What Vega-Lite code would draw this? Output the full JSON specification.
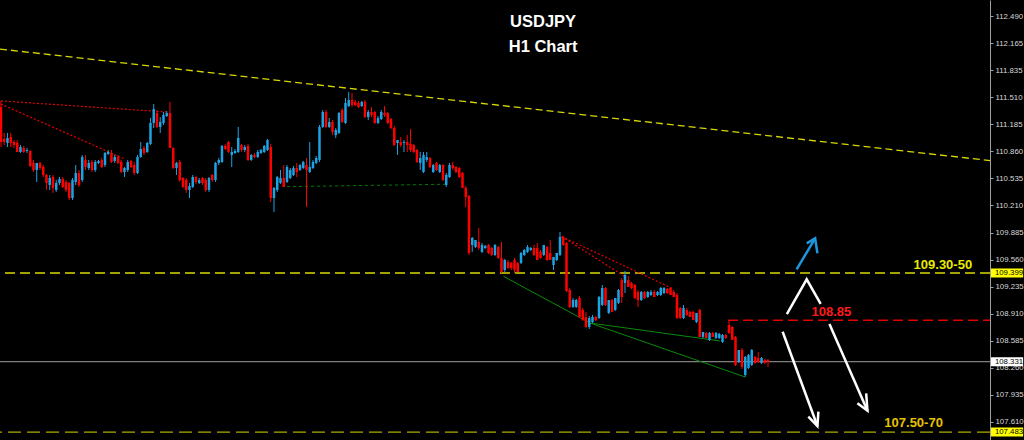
{
  "$schema": "https://vega.github.io/schema/vega-lite/v6.json",
  "width": 990,
  "height": 440,
  "autosize": {"type": "none"},
  "padding": {"left": 0, "top": 0, "right": 34, "bottom": 0},
  "background": "#000000",
  "config": {
    "view": {"stroke": null},
    "scale": {"continuousPadding": 0},
    "axis": {"grid": false, "domainColor": "#a0a0a0", "domainWidth": 1, "tickColor": "#a0a0a0", "tickSize": 3, "labelColor": "#d8d8d8",
      "labelFont": "Liberation Sans", "labelFontSize": 7.8, "labelPadding": 2, "labelAlign": "left", "labelBaseline": "middle", "labelOverlap": false}
  },
  "resolve": {"scale": {"color": "independent"}},
  "datasets": {
    "candles": [
      {"t":0,"o":111.395,"h":111.468,"l":110.914,"c":110.974},
      {"t":1,"o":111.010,"h":111.083,"l":110.938,"c":110.974},
      {"t":2,"o":110.962,"h":111.083,"l":110.914,"c":111.022},
      {"t":3,"o":111.034,"h":111.083,"l":110.914,"c":110.962},
      {"t":4,"o":110.974,"h":110.998,"l":110.902,"c":110.938},
      {"t":5,"o":110.962,"h":110.998,"l":110.854,"c":110.854},
      {"t":6,"o":110.854,"h":110.938,"l":110.842,"c":110.914},
      {"t":7,"o":110.902,"h":110.926,"l":110.842,"c":110.854},
      {"t":8,"o":110.866,"h":110.902,"l":110.842,"c":110.878},
      {"t":9,"o":110.866,"h":110.878,"l":110.673,"c":110.685},
      {"t":10,"o":110.722,"h":110.758,"l":110.613,"c":110.637},
      {"t":11,"o":110.637,"h":110.722,"l":110.493,"c":110.722},
      {"t":12,"o":110.722,"h":110.734,"l":110.637,"c":110.661},
      {"t":13,"o":110.673,"h":110.697,"l":110.553,"c":110.577},
      {"t":14,"o":110.577,"h":110.589,"l":110.397,"c":110.481},
      {"t":15,"o":110.457,"h":110.577,"l":110.397,"c":110.541},
      {"t":16,"o":110.553,"h":110.577,"l":110.361,"c":110.421},
      {"t":17,"o":110.397,"h":110.517,"l":110.373,"c":110.481},
      {"t":18,"o":110.481,"h":110.553,"l":110.457,"c":110.529},
      {"t":19,"o":110.529,"h":110.553,"l":110.421,"c":110.433},
      {"t":20,"o":110.493,"h":110.517,"l":110.373,"c":110.397},
      {"t":21,"o":110.481,"h":110.493,"l":110.276,"c":110.300},
      {"t":22,"o":110.300,"h":110.541,"l":110.276,"c":110.517},
      {"t":23,"o":110.493,"h":110.697,"l":110.457,"c":110.601},
      {"t":24,"o":110.601,"h":110.637,"l":110.433,"c":110.457},
      {"t":25,"o":110.517,"h":110.818,"l":110.493,"c":110.794},
      {"t":26,"o":110.758,"h":110.818,"l":110.637,"c":110.673},
      {"t":27,"o":110.661,"h":110.758,"l":110.637,"c":110.722},
      {"t":28,"o":110.734,"h":110.758,"l":110.613,"c":110.637},
      {"t":29,"o":110.637,"h":110.758,"l":110.613,"c":110.734},
      {"t":30,"o":110.722,"h":110.758,"l":110.709,"c":110.746},
      {"t":31,"o":110.758,"h":110.782,"l":110.661,"c":110.673},
      {"t":32,"o":110.697,"h":110.854,"l":110.673,"c":110.842},
      {"t":33,"o":110.830,"h":110.878,"l":110.818,"c":110.854},
      {"t":34,"o":110.842,"h":110.878,"l":110.722,"c":110.734},
      {"t":35,"o":110.746,"h":110.818,"l":110.722,"c":110.794},
      {"t":36,"o":110.794,"h":110.818,"l":110.709,"c":110.722},
      {"t":37,"o":110.734,"h":110.758,"l":110.601,"c":110.613},
      {"t":38,"o":110.613,"h":110.673,"l":110.553,"c":110.661},
      {"t":39,"o":110.637,"h":110.758,"l":110.613,"c":110.734},
      {"t":40,"o":110.746,"h":110.758,"l":110.661,"c":110.673},
      {"t":41,"o":110.697,"h":110.734,"l":110.577,"c":110.601},
      {"t":42,"o":110.601,"h":110.818,"l":110.589,"c":110.794},
      {"t":43,"o":110.794,"h":110.974,"l":110.782,"c":110.890},
      {"t":44,"o":110.902,"h":110.926,"l":110.818,"c":110.842},
      {"t":45,"o":110.854,"h":110.974,"l":110.842,"c":110.962},
      {"t":46,"o":110.950,"h":111.263,"l":110.938,"c":111.203},
      {"t":47,"o":111.203,"h":111.431,"l":111.143,"c":111.371},
      {"t":48,"o":111.323,"h":111.359,"l":111.143,"c":111.155},
      {"t":49,"o":111.155,"h":111.275,"l":111.083,"c":111.215},
      {"t":50,"o":111.203,"h":111.335,"l":111.179,"c":111.299},
      {"t":51,"o":111.287,"h":111.347,"l":111.275,"c":111.323},
      {"t":52,"o":111.323,"h":111.456,"l":110.902,"c":110.902},
      {"t":53,"o":110.902,"h":110.914,"l":110.649,"c":110.661},
      {"t":54,"o":110.661,"h":110.734,"l":110.577,"c":110.722},
      {"t":55,"o":110.734,"h":110.758,"l":110.493,"c":110.517},
      {"t":56,"o":110.541,"h":110.553,"l":110.421,"c":110.433},
      {"t":57,"o":110.517,"h":110.541,"l":110.361,"c":110.397},
      {"t":58,"o":110.397,"h":110.481,"l":110.300,"c":110.445},
      {"t":59,"o":110.433,"h":110.577,"l":110.421,"c":110.553},
      {"t":60,"o":110.553,"h":110.565,"l":110.469,"c":110.493},
      {"t":61,"o":110.481,"h":110.541,"l":110.469,"c":110.517},
      {"t":62,"o":110.541,"h":110.553,"l":110.457,"c":110.481},
      {"t":63,"o":110.517,"h":110.541,"l":110.373,"c":110.397},
      {"t":64,"o":110.397,"h":110.553,"l":110.373,"c":110.541},
      {"t":65,"o":110.577,"h":110.589,"l":110.493,"c":110.517},
      {"t":66,"o":110.517,"h":110.734,"l":110.493,"c":110.722},
      {"t":67,"o":110.722,"h":110.782,"l":110.697,"c":110.758},
      {"t":68,"o":110.734,"h":110.938,"l":110.722,"c":110.926},
      {"t":69,"o":110.926,"h":110.950,"l":110.878,"c":110.890},
      {"t":70,"o":110.974,"h":110.986,"l":110.842,"c":110.854},
      {"t":71,"o":110.818,"h":110.914,"l":110.673,"c":110.854},
      {"t":72,"o":110.842,"h":110.890,"l":110.830,"c":110.866},
      {"t":73,"o":110.854,"h":111.155,"l":110.842,"c":111.022},
      {"t":74,"o":110.938,"h":110.950,"l":110.854,"c":110.878},
      {"t":75,"o":110.878,"h":110.938,"l":110.854,"c":110.914},
      {"t":76,"o":110.926,"h":110.950,"l":110.746,"c":110.758},
      {"t":77,"o":110.758,"h":110.830,"l":110.746,"c":110.818},
      {"t":78,"o":110.818,"h":110.842,"l":110.782,"c":110.794},
      {"t":79,"o":110.794,"h":110.878,"l":110.782,"c":110.854},
      {"t":80,"o":110.842,"h":110.890,"l":110.830,"c":110.878},
      {"t":81,"o":110.854,"h":110.938,"l":110.842,"c":110.926},
      {"t":82,"o":110.878,"h":111.010,"l":110.866,"c":110.998},
      {"t":83,"o":110.914,"h":110.950,"l":110.252,"c":110.300},
      {"t":84,"o":110.300,"h":110.433,"l":110.132,"c":110.421},
      {"t":85,"o":110.397,"h":110.565,"l":110.373,"c":110.553},
      {"t":86,"o":110.481,"h":110.637,"l":110.469,"c":110.541},
      {"t":87,"o":110.541,"h":110.697,"l":110.433,"c":110.433},
      {"t":88,"o":110.493,"h":110.697,"l":110.481,"c":110.673},
      {"t":89,"o":110.541,"h":110.661,"l":110.529,"c":110.637},
      {"t":90,"o":110.577,"h":110.685,"l":110.565,"c":110.661},
      {"t":91,"o":110.661,"h":110.722,"l":110.553,"c":110.613},
      {"t":92,"o":110.637,"h":110.709,"l":110.625,"c":110.697},
      {"t":93,"o":110.661,"h":110.746,"l":110.649,"c":110.734},
      {"t":94,"o":110.697,"h":110.782,"l":110.192,"c":110.637},
      {"t":95,"o":110.613,"h":110.974,"l":110.601,"c":110.673},
      {"t":96,"o":110.661,"h":110.758,"l":110.649,"c":110.734},
      {"t":97,"o":110.722,"h":110.806,"l":110.709,"c":110.782},
      {"t":98,"o":110.758,"h":111.179,"l":110.734,"c":111.155},
      {"t":99,"o":111.155,"h":111.359,"l":111.143,"c":111.335},
      {"t":100,"o":111.335,"h":111.359,"l":111.143,"c":111.155},
      {"t":101,"o":111.155,"h":111.263,"l":111.143,"c":111.215},
      {"t":102,"o":111.215,"h":111.239,"l":111.058,"c":111.095},
      {"t":103,"o":111.058,"h":111.143,"l":111.022,"c":111.119},
      {"t":104,"o":111.083,"h":111.335,"l":111.070,"c":111.323},
      {"t":105,"o":111.359,"h":111.383,"l":111.203,"c":111.215},
      {"t":106,"o":111.203,"h":111.504,"l":111.191,"c":111.444},
      {"t":107,"o":111.407,"h":111.576,"l":111.395,"c":111.480},
      {"t":108,"o":111.480,"h":111.564,"l":111.395,"c":111.419},
      {"t":109,"o":111.456,"h":111.480,"l":111.407,"c":111.419},
      {"t":110,"o":111.444,"h":111.468,"l":111.383,"c":111.395},
      {"t":111,"o":111.407,"h":111.468,"l":111.395,"c":111.456},
      {"t":112,"o":111.456,"h":111.480,"l":111.263,"c":111.275},
      {"t":113,"o":111.275,"h":111.359,"l":111.239,"c":111.335},
      {"t":114,"o":111.335,"h":111.395,"l":111.275,"c":111.299},
      {"t":115,"o":111.335,"h":111.347,"l":111.191,"c":111.203},
      {"t":116,"o":111.203,"h":111.287,"l":111.191,"c":111.263},
      {"t":117,"o":111.251,"h":111.359,"l":111.239,"c":111.335},
      {"t":118,"o":111.323,"h":111.407,"l":111.275,"c":111.299},
      {"t":119,"o":111.323,"h":111.335,"l":111.191,"c":111.203},
      {"t":120,"o":111.251,"h":111.263,"l":111.131,"c":111.143},
      {"t":121,"o":111.143,"h":111.167,"l":110.926,"c":110.938},
      {"t":122,"o":110.962,"h":110.998,"l":110.818,"c":110.998},
      {"t":123,"o":110.974,"h":111.034,"l":110.914,"c":110.938},
      {"t":124,"o":110.962,"h":110.998,"l":110.854,"c":110.974},
      {"t":125,"o":110.974,"h":111.058,"l":110.854,"c":110.938},
      {"t":126,"o":110.950,"h":111.131,"l":110.854,"c":110.878},
      {"t":127,"o":110.938,"h":110.950,"l":110.842,"c":110.854},
      {"t":128,"o":110.878,"h":110.890,"l":110.722,"c":110.734},
      {"t":129,"o":110.722,"h":110.854,"l":110.637,"c":110.782},
      {"t":130,"o":110.613,"h":110.854,"l":110.601,"c":110.818},
      {"t":131,"o":110.758,"h":110.854,"l":110.734,"c":110.794},
      {"t":132,"o":110.782,"h":110.794,"l":110.661,"c":110.673},
      {"t":133,"o":110.613,"h":110.709,"l":110.601,"c":110.697},
      {"t":134,"o":110.722,"h":110.734,"l":110.625,"c":110.637},
      {"t":135,"o":110.613,"h":110.709,"l":110.601,"c":110.697},
      {"t":136,"o":110.697,"h":110.709,"l":110.505,"c":110.517},
      {"t":137,"o":110.457,"h":110.601,"l":110.433,"c":110.577},
      {"t":138,"o":110.553,"h":110.722,"l":110.541,"c":110.697},
      {"t":139,"o":110.697,"h":110.734,"l":110.637,"c":110.661},
      {"t":140,"o":110.673,"h":110.685,"l":110.601,"c":110.613},
      {"t":141,"o":110.661,"h":110.673,"l":110.541,"c":110.553},
      {"t":142,"o":110.601,"h":110.613,"l":110.421,"c":110.421},
      {"t":143,"o":110.421,"h":110.445,"l":110.192,"c":110.312},
      {"t":144,"o":110.324,"h":110.336,"l":109.615,"c":109.639},
      {"t":145,"o":109.735,"h":109.831,"l":109.651,"c":109.819},
      {"t":146,"o":109.711,"h":109.795,"l":109.699,"c":109.795},
      {"t":147,"o":109.771,"h":109.939,"l":109.675,"c":109.699},
      {"t":148,"o":109.651,"h":109.759,"l":109.639,"c":109.735},
      {"t":149,"o":109.699,"h":109.735,"l":109.687,"c":109.723},
      {"t":150,"o":109.735,"h":109.747,"l":109.627,"c":109.639},
      {"t":151,"o":109.699,"h":109.711,"l":109.603,"c":109.615},
      {"t":152,"o":109.615,"h":109.747,"l":109.603,"c":109.735},
      {"t":153,"o":109.711,"h":109.723,"l":109.567,"c":109.579},
      {"t":154,"o":109.579,"h":109.771,"l":109.398,"c":109.410},
      {"t":155,"o":109.434,"h":109.567,"l":109.410,"c":109.554},
      {"t":156,"o":109.530,"h":109.554,"l":109.446,"c":109.458},
      {"t":157,"o":109.518,"h":109.530,"l":109.434,"c":109.458},
      {"t":158,"o":109.554,"h":109.579,"l":109.398,"c":109.434},
      {"t":159,"o":109.518,"h":109.530,"l":109.410,"c":109.410},
      {"t":160,"o":109.518,"h":109.651,"l":109.506,"c":109.639},
      {"t":161,"o":109.615,"h":109.687,"l":109.603,"c":109.675},
      {"t":162,"o":109.651,"h":109.735,"l":109.639,"c":109.711},
      {"t":163,"o":109.675,"h":109.711,"l":109.663,"c":109.699},
      {"t":164,"o":109.699,"h":109.735,"l":109.603,"c":109.615},
      {"t":165,"o":109.699,"h":109.759,"l":109.554,"c":109.554},
      {"t":166,"o":109.651,"h":109.675,"l":109.567,"c":109.579},
      {"t":167,"o":109.615,"h":109.735,"l":109.603,"c":109.735},
      {"t":168,"o":109.711,"h":109.723,"l":109.542,"c":109.554},
      {"t":169,"o":109.639,"h":109.795,"l":109.554,"c":109.554},
      {"t":170,"o":109.494,"h":109.591,"l":109.434,"c":109.591},
      {"t":171,"o":109.554,"h":109.639,"l":109.542,"c":109.639},
      {"t":172,"o":109.615,"h":109.891,"l":109.603,"c":109.831},
      {"t":173,"o":109.831,"h":109.843,"l":109.723,"c":109.735},
      {"t":174,"o":109.759,"h":109.771,"l":109.169,"c":109.181},
      {"t":175,"o":109.193,"h":109.217,"l":108.977,"c":108.989},
      {"t":176,"o":108.989,"h":109.097,"l":108.977,"c":109.073},
      {"t":177,"o":108.989,"h":109.085,"l":108.977,"c":109.073},
      {"t":178,"o":109.097,"h":109.121,"l":108.856,"c":108.868},
      {"t":179,"o":108.953,"h":108.977,"l":108.820,"c":108.832},
      {"t":180,"o":108.868,"h":108.929,"l":108.736,"c":108.748},
      {"t":181,"o":108.748,"h":108.880,"l":108.724,"c":108.856},
      {"t":182,"o":108.808,"h":108.893,"l":108.796,"c":108.868},
      {"t":183,"o":108.868,"h":108.880,"l":108.820,"c":108.832},
      {"t":184,"o":108.856,"h":109.121,"l":108.844,"c":109.109},
      {"t":185,"o":109.013,"h":109.253,"l":109.001,"c":109.217},
      {"t":186,"o":109.217,"h":109.229,"l":109.001,"c":109.013},
      {"t":187,"o":108.917,"h":109.073,"l":108.905,"c":109.073},
      {"t":188,"o":109.073,"h":109.085,"l":108.929,"c":108.929},
      {"t":189,"o":108.953,"h":109.097,"l":108.941,"c":109.097},
      {"t":190,"o":109.037,"h":109.205,"l":109.025,"c":109.193},
      {"t":191,"o":109.314,"h":109.338,"l":109.037,"c":109.109},
      {"t":192,"o":109.278,"h":109.422,"l":109.157,"c":109.374},
      {"t":193,"o":109.314,"h":109.362,"l":109.229,"c":109.229},
      {"t":194,"o":109.278,"h":109.290,"l":109.205,"c":109.217},
      {"t":195,"o":109.254,"h":109.266,"l":109.085,"c":109.097},
      {"t":196,"o":109.169,"h":109.193,"l":108.989,"c":109.073},
      {"t":197,"o":109.073,"h":109.181,"l":109.061,"c":109.169},
      {"t":198,"o":109.169,"h":109.181,"l":109.085,"c":109.097},
      {"t":199,"o":109.109,"h":109.181,"l":109.097,"c":109.169},
      {"t":200,"o":109.133,"h":109.193,"l":109.121,"c":109.169},
      {"t":201,"o":109.169,"h":109.193,"l":109.109,"c":109.109},
      {"t":202,"o":109.133,"h":109.181,"l":109.121,"c":109.169},
      {"t":203,"o":109.133,"h":109.229,"l":109.121,"c":109.217},
      {"t":204,"o":109.157,"h":109.229,"l":109.145,"c":109.217},
      {"t":205,"o":109.205,"h":109.217,"l":109.145,"c":109.157},
      {"t":206,"o":109.217,"h":109.229,"l":109.133,"c":109.133},
      {"t":207,"o":109.169,"h":109.193,"l":109.109,"c":109.109},
      {"t":208,"o":109.133,"h":109.157,"l":108.844,"c":108.856},
      {"t":209,"o":108.977,"h":108.989,"l":108.844,"c":108.856},
      {"t":210,"o":108.856,"h":109.013,"l":108.844,"c":108.977},
      {"t":211,"o":108.953,"h":108.977,"l":108.880,"c":108.893},
      {"t":212,"o":108.929,"h":108.941,"l":108.868,"c":108.868},
      {"t":213,"o":108.929,"h":108.941,"l":108.832,"c":108.832},
      {"t":214,"o":108.808,"h":108.917,"l":108.796,"c":108.917},
      {"t":215,"o":108.953,"h":108.965,"l":108.628,"c":108.628},
      {"t":216,"o":108.628,"h":108.688,"l":108.616,"c":108.688},
      {"t":217,"o":108.676,"h":108.688,"l":108.616,"c":108.616},
      {"t":218,"o":108.592,"h":108.688,"l":108.580,"c":108.676},
      {"t":219,"o":108.676,"h":108.688,"l":108.628,"c":108.628},
      {"t":220,"o":108.616,"h":108.688,"l":108.604,"c":108.676},
      {"t":221,"o":108.616,"h":108.676,"l":108.604,"c":108.664},
      {"t":222,"o":108.568,"h":108.664,"l":108.556,"c":108.652},
      {"t":223,"o":108.652,"h":108.664,"l":108.604,"c":108.616},
      {"t":224,"o":108.772,"h":108.832,"l":108.664,"c":108.676},
      {"t":225,"o":108.748,"h":108.760,"l":108.592,"c":108.592},
      {"t":226,"o":108.628,"h":108.640,"l":108.279,"c":108.291},
      {"t":227,"o":108.327,"h":108.471,"l":108.315,"c":108.471},
      {"t":228,"o":108.471,"h":108.495,"l":108.243,"c":108.267},
      {"t":229,"o":108.171,"h":108.399,"l":108.147,"c":108.387},
      {"t":230,"o":108.255,"h":108.423,"l":108.243,"c":108.411},
      {"t":231,"o":108.291,"h":108.483,"l":108.279,"c":108.471},
      {"t":232,"o":108.387,"h":108.399,"l":108.303,"c":108.315},
      {"t":233,"o":108.375,"h":108.447,"l":108.315,"c":108.327},
      {"t":234,"o":108.315,"h":108.387,"l":108.303,"c":108.375},
      {"t":235,"o":108.351,"h":108.363,"l":108.303,"c":108.315},
      {"t":236,"o":108.351,"h":108.363,"l":108.267,"c":108.331}
    ],
    "redDotted": [
      {"seg":"r1","t":0,"p":111.468},{"seg":"r1","t":51,"p":111.335},
      {"seg":"r2","t":0,"p":111.431},{"seg":"r2","t":38,"p":110.770},
      {"seg":"r3","t":172.5,"p":109.837},{"seg":"r3","t":192,"p":109.354},
      {"seg":"r4","t":172.5,"p":109.837},{"seg":"r4","t":206.4,"p":109.215}
    ],
    "greenSolid": [
      {"seg":"g1","t":154.6,"p":109.358},{"seg":"g1","t":181.2,"p":108.796},
      {"seg":"g2","t":181.2,"p":108.796},{"seg":"g2","t":221.2,"p":108.580},
      {"seg":"g3","t":181.2,"p":108.796},{"seg":"g3","t":228.9,"p":108.147}
    ],
    "greenDotted": [
      {"t":88,"p":110.437},{"t":137.5,"p":110.466}
    ],
    "trend": [
      {"t":-0.3,"p":112.093},{"t":304.3,"p":110.750}
    ],
    "whiteArrows": [
      {"seg":"caret","k":0,"t":241.8,"p":108.904},{"seg":"caret","k":1,"t":247.9,"p":109.322},{"seg":"caret","k":2,"t":252.2,"p":109.025},
      {"seg":"a1s","k":0,"t":240.5,"p":108.691},{"seg":"a1s","k":1,"t":251.2,"p":107.556},
      {"seg":"a1h","k":0,"t":248.4,"p":107.669},{"seg":"a1h","k":1,"t":251.2,"p":107.556},{"seg":"a1h","k":2,"t":251.5,"p":107.729},
      {"seg":"a2s","k":0,"t":254.9,"p":108.784},{"seg":"a2s","k":1,"t":266.6,"p":107.741},
      {"seg":"a2h","k":0,"t":263.5,"p":107.830},{"seg":"a2h","k":1,"t":266.6,"p":107.741},{"seg":"a2h","k":2,"t":266.2,"p":107.950}
    ],
    "blueArrow": [
      {"seg":"bs","k":0,"t":244.8,"p":109.441},{"seg":"bs","k":1,"t":250.5,"p":109.815},
      {"seg":"bh","k":0,"t":247.9,"p":109.755},{"seg":"bh","k":1,"t":250.5,"p":109.815},{"seg":"bh","k":2,"t":251.2,"p":109.635}
    ],
    "titles": [
      {"t":166.8,"p":112.418,"label":"USDJPY"},
      {"t":166.8,"p":112.117,"label":"H1 Chart"}
    ],
    "levelLabels": [
      {"t":289.8,"p":109.498,"label":"109.30-50","g":"upper"},
      {"t":255.5,"p":108.929,"label":"108.85","g":"pivot"},
      {"t":280.8,"p":107.596,"label":"107.50-70","g":"lower"}
    ],
    "tags": [
      {"p":109.399,"label":"109.399","g":"level"},
      {"p":108.331,"label":"108.331","g":"last"},
      {"p":107.483,"label":"107.483","g":"level"}
    ]
  },
  "layer": [
    {
      "data": {"name": "trend"},
      "mark": {"type": "line", "color": "#d8d800", "strokeWidth": 1.3, "strokeDash": [7, 4]},
      "encoding": {
        "x": {"field": "t", "type": "quantitative", "scale": {"domain": [-0.3, 304.3], "nice": false, "zero": false}, "axis": null},
        "y": {"field": "p", "type": "quantitative", "scale": {"domain": [107.388, 112.683], "nice": false, "zero": false},
          "axis": {"orient": "right", "title": null, "format": ".3f", "values": [112.49, 112.165, 111.835, 111.51, 111.185, 110.86, 110.535, 110.21, 109.885, 109.56, 109.235, 108.91, 108.585, 108.26, 107.935, 107.61]}}
      }
    },
    {
      "data": {"values": [{"p": 109.399}]},
      "mark": {"type": "rule", "color": "#a3a300", "strokeWidth": 2, "strokeDash": [10, 5]},
      "encoding": {
        "y": {"field": "p", "type": "quantitative", "scale": {"domain": [107.388, 112.683], "nice": false, "zero": false},
          "axis": {"orient": "right", "title": null, "format": ".3f", "values": [112.49, 112.165, 111.835, 111.51, 111.185, 110.86, 110.535, 110.21, 109.885, 109.56, 109.235, 108.91, 108.585, 108.26, 107.935, 107.61]}}
      }
    },
    {
      "data": {"values": [{"p": 107.483}]},
      "mark": {"type": "rule", "color": "#d8d800", "strokeWidth": 1, "strokeDash": [13, 6]},
      "encoding": {
        "y": {"field": "p", "type": "quantitative", "scale": {"domain": [107.388, 112.683], "nice": false, "zero": false},
          "axis": {"orient": "right", "title": null, "format": ".3f", "values": [112.49, 112.165, 111.835, 111.51, 111.185, 110.86, 110.535, 110.21, 109.885, 109.56, 109.235, 108.91, 108.585, 108.26, 107.935, 107.61]}}
      }
    },
    {
      "data": {"values": [{"p": 108.331}]},
      "mark": {"type": "rule", "color": "#7f7f7f", "strokeWidth": 1.3},
      "encoding": {
        "y": {"field": "p", "type": "quantitative", "scale": {"domain": [107.388, 112.683], "nice": false, "zero": false},
          "axis": {"orient": "right", "title": null, "format": ".3f", "values": [112.49, 112.165, 111.835, 111.51, 111.185, 110.86, 110.535, 110.21, 109.885, 109.56, 109.235, 108.91, 108.585, 108.26, 107.935, 107.61]}}
      }
    },
    {
      "data": {"values": [{"t": 223.7, "p": 108.83}]},
      "mark": {"type": "rule", "color": "#e00000", "strokeWidth": 1.5, "strokeDash": [10, 5]},
      "encoding": {
        "x": {"field": "t", "type": "quantitative", "scale": {"domain": [-0.3, 304.3], "nice": false, "zero": false}, "axis": null},
        "x2": {"datum": 304.3},
        "y": {"field": "p", "type": "quantitative", "scale": {"domain": [107.388, 112.683], "nice": false, "zero": false},
          "axis": {"orient": "right", "title": null, "format": ".3f", "values": [112.49, 112.165, 111.835, 111.51, 111.185, 110.86, 110.535, 110.21, 109.885, 109.56, 109.235, 108.91, 108.585, 108.26, 107.935, 107.61]}}
      }
    },
    {
      "data": {"name": "redDotted"},
      "mark": {"type": "line", "color": "#e60000", "strokeWidth": 1.2, "strokeDash": [2, 2]},
      "encoding": {
        "x": {"field": "t", "type": "quantitative", "scale": {"domain": [-0.3, 304.3], "nice": false, "zero": false}, "axis": null},
        "y": {"field": "p", "type": "quantitative", "scale": {"domain": [107.388, 112.683], "nice": false, "zero": false},
          "axis": {"orient": "right", "title": null, "format": ".3f", "values": [112.49, 112.165, 111.835, 111.51, 111.185, 110.86, 110.535, 110.21, 109.885, 109.56, 109.235, 108.91, 108.585, 108.26, 107.935, 107.61]}},
        "detail": {"field": "seg"}
      }
    },
    {
      "data": {"name": "greenDotted"},
      "mark": {"type": "line", "color": "#007a00", "strokeWidth": 1, "strokeDash": [3, 3]},
      "encoding": {
        "x": {"field": "t", "type": "quantitative", "scale": {"domain": [-0.3, 304.3], "nice": false, "zero": false}, "axis": null},
        "y": {"field": "p", "type": "quantitative", "scale": {"domain": [107.388, 112.683], "nice": false, "zero": false},
          "axis": {"orient": "right", "title": null, "format": ".3f", "values": [112.49, 112.165, 111.835, 111.51, 111.185, 110.86, 110.535, 110.21, 109.885, 109.56, 109.235, 108.91, 108.585, 108.26, 107.935, 107.61]}}
      }
    },
    {
      "data": {"name": "greenSolid"},
      "mark": {"type": "line", "color": "#0a8a0a", "strokeWidth": 1},
      "encoding": {
        "x": {"field": "t", "type": "quantitative", "scale": {"domain": [-0.3, 304.3], "nice": false, "zero": false}, "axis": null},
        "y": {"field": "p", "type": "quantitative", "scale": {"domain": [107.388, 112.683], "nice": false, "zero": false},
          "axis": {"orient": "right", "title": null, "format": ".3f", "values": [112.49, 112.165, 111.835, 111.51, 111.185, 110.86, 110.535, 110.21, 109.885, 109.56, 109.235, 108.91, 108.585, 108.26, 107.935, 107.61]}},
        "detail": {"field": "seg"}
      }
    },
    {
      "data": {"name": "candles"},
      "mark": {"type": "rule", "strokeWidth": 1},
      "encoding": {
        "x": {"field": "t", "type": "quantitative", "scale": {"domain": [-0.3, 304.3], "nice": false, "zero": false}, "axis": null},
        "y": {"field": "l", "type": "quantitative", "scale": {"domain": [107.388, 112.683], "nice": false, "zero": false},
          "axis": {"orient": "right", "title": null, "format": ".3f", "values": [112.49, 112.165, 111.835, 111.51, 111.185, 110.86, 110.535, 110.21, 109.885, 109.56, 109.235, 108.91, 108.585, 108.26, 107.935, 107.61]}},
        "y2": {"field": "h"},
        "color": {"condition": {"test": "datum.c < datum.o", "value": "#ff0000"}, "value": "#1ca3e3"}
      }
    },
    {
      "data": {"name": "candles"},
      "mark": {"type": "bar", "width": 2.5},
      "encoding": {
        "x": {"field": "t", "type": "quantitative", "scale": {"domain": [-0.3, 304.3], "nice": false, "zero": false}, "axis": null},
        "y": {"field": "o", "type": "quantitative", "scale": {"domain": [107.388, 112.683], "nice": false, "zero": false},
          "axis": {"orient": "right", "title": null, "format": ".3f", "values": [112.49, 112.165, 111.835, 111.51, 111.185, 110.86, 110.535, 110.21, 109.885, 109.56, 109.235, 108.91, 108.585, 108.26, 107.935, 107.61]}},
        "y2": {"field": "c"},
        "color": {"condition": {"test": "datum.c < datum.o", "value": "#ff0000"}, "value": "#1ca3e3"}
      }
    },
    {
      "data": {"name": "whiteArrows"},
      "mark": {"type": "line", "color": "#ffffff", "strokeWidth": 2.5, "strokeJoin": "miter"},
      "encoding": {
        "x": {"field": "t", "type": "quantitative", "scale": {"domain": [-0.3, 304.3], "nice": false, "zero": false}, "axis": null},
        "y": {"field": "p", "type": "quantitative", "scale": {"domain": [107.388, 112.683], "nice": false, "zero": false},
          "axis": {"orient": "right", "title": null, "format": ".3f", "values": [112.49, 112.165, 111.835, 111.51, 111.185, 110.86, 110.535, 110.21, 109.885, 109.56, 109.235, 108.91, 108.585, 108.26, 107.935, 107.61]}},
        "detail": {"field": "seg"},
        "order": {"field": "k"}
      }
    },
    {
      "data": {"name": "blueArrow"},
      "mark": {"type": "line", "color": "#1e96dc", "strokeWidth": 2.5, "strokeJoin": "miter"},
      "encoding": {
        "x": {"field": "t", "type": "quantitative", "scale": {"domain": [-0.3, 304.3], "nice": false, "zero": false}, "axis": null},
        "y": {"field": "p", "type": "quantitative", "scale": {"domain": [107.388, 112.683], "nice": false, "zero": false},
          "axis": {"orient": "right", "title": null, "format": ".3f", "values": [112.49, 112.165, 111.835, 111.51, 111.185, 110.86, 110.535, 110.21, 109.885, 109.56, 109.235, 108.91, 108.585, 108.26, 107.935, 107.61]}},
        "detail": {"field": "seg"},
        "order": {"field": "k"}
      }
    },
    {
      "data": {"name": "titles"},
      "mark": {"type": "text", "color": "#ffffff", "font": "Liberation Sans", "fontSize": 16.5, "fontWeight": "bold", "align": "center", "baseline": "middle"},
      "encoding": {
        "x": {"field": "t", "type": "quantitative", "scale": {"domain": [-0.3, 304.3], "nice": false, "zero": false}, "axis": null},
        "y": {"field": "p", "type": "quantitative", "scale": {"domain": [107.388, 112.683], "nice": false, "zero": false},
          "axis": {"orient": "right", "title": null, "format": ".3f", "values": [112.49, 112.165, 111.835, 111.51, 111.185, 110.86, 110.535, 110.21, 109.885, 109.56, 109.235, 108.91, 108.585, 108.26, 107.935, 107.61]}},
        "text": {"field": "label"}
      }
    },
    {
      "data": {"name": "levelLabels"},
      "mark": {"type": "text", "font": "Liberation Sans", "fontSize": 13, "fontWeight": "bold", "align": "center", "baseline": "middle"},
      "encoding": {
        "x": {"field": "t", "type": "quantitative", "scale": {"domain": [-0.3, 304.3], "nice": false, "zero": false}, "axis": null},
        "y": {"field": "p", "type": "quantitative", "scale": {"domain": [107.388, 112.683], "nice": false, "zero": false},
          "axis": {"orient": "right", "title": null, "format": ".3f", "values": [112.49, 112.165, 111.835, 111.51, 111.185, 110.86, 110.535, 110.21, 109.885, 109.56, 109.235, 108.91, 108.585, 108.26, 107.935, 107.61]}},
        "text": {"field": "label"},
        "color": {"field": "g", "type": "nominal", "scale": {"domain": ["upper", "pivot", "lower"], "range": ["#eaea00", "#ff1a1a", "#e8c200"]}, "legend": null}
      }
    },
    {
      "data": {"name": "tags"},
      "mark": {"type": "bar", "height": 9},
      "encoding": {
        "x": {"datum": 304.6, "type": "quantitative", "scale": {"domain": [-0.3, 304.3], "nice": false, "zero": false}, "axis": null},
        "x2": {"datum": 314.5},
        "y": {"field": "p", "type": "quantitative", "scale": {"domain": [107.388, 112.683], "nice": false, "zero": false},
          "axis": {"orient": "right", "title": null, "format": ".3f", "values": [112.49, 112.165, 111.835, 111.51, 111.185, 110.86, 110.535, 110.21, 109.885, 109.56, 109.235, 108.91, 108.585, 108.26, 107.935, 107.61]}},
        "fill": {"field": "g", "type": "nominal", "scale": {"domain": ["level", "last"], "range": ["#ffff00", "#ffffff"]}, "legend": null}
      }
    },
    {
      "data": {"name": "tags"},
      "mark": {"type": "text", "color": "#000000", "font": "Liberation Sans", "fontSize": 7.8, "align": "left", "baseline": "middle"},
      "encoding": {
        "x": {"datum": 305.8, "type": "quantitative", "scale": {"domain": [-0.3, 304.3], "nice": false, "zero": false}, "axis": null},
        "y": {"field": "p", "type": "quantitative", "scale": {"domain": [107.388, 112.683], "nice": false, "zero": false},
          "axis": {"orient": "right", "title": null, "format": ".3f", "values": [112.49, 112.165, 111.835, 111.51, 111.185, 110.86, 110.535, 110.21, 109.885, 109.56, 109.235, 108.91, 108.585, 108.26, 107.935, 107.61]}},
        "text": {"field": "label"}
      }
    }
  ]
}
